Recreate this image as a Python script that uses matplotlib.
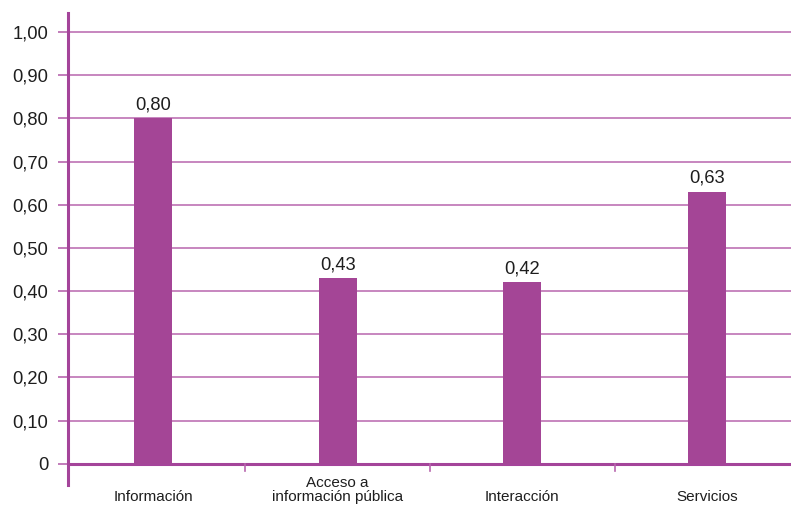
import matplotlib.pyplot as plt
import numpy as np
from matplotlib.transforms import blended_transform_factory

categories = ["Información", "Acceso a\ninformación pública", "Interacción", "Servicios"]
values = [0.80, 0.43, 0.42, 0.63]
y_ticks = [0.0, 0.1, 0.2, 0.3, 0.4, 0.5, 0.6, 0.7, 0.8, 0.9, 1.0]

BAR = "#a44596"
GRID = "#b866ae"
AXIS = "#a4449a"
TEXT = "#1e1e1e"

plt.rcParams["font.family"] = ["Liberation Sans", "DejaVu Sans"]


def fmt(v):
    return "0" if v == 0 else f"{v:.2f}".replace(".", ",")


fig = plt.figure(figsize=(7.91, 5.22), dpi=100)
ax = fig.add_axes([68 / 791, 1 - 485 / 522, 1 - 68 / 791, (485 - 13) / 522])

x = np.arange(len(categories))
ax.bar(x, values, width=0.205, color=BAR, zorder=3)

ax.set_xlim(-0.46, 3.455)
ax.set_ylim(-0.049, 1.044)

# gridlines + outward tick marks
ax.set_yticks(y_ticks)
ax.set_yticklabels([fmt(v) for v in y_ticks], fontsize=13.2, color=TEXT)
ax.tick_params(axis="y", direction="out", length=7.2, width=1.2, color=GRID, pad=7)
for v in y_ticks:
    ax.axhline(v, color=AXIS if v == 0 else GRID, lw=2.2 if v == 0 else 1.1, zorder=2)

# category boundary ticks below the zero line
for b in [0.5, 1.5, 2.5]:
    ax.plot([b, b], [0, -0.017], color=GRID, lw=1.2, clip_on=False, zorder=2)

ax.set_xticks([])
for s in ["top", "right", "bottom"]:
    ax.spines[s].set_visible(False)
ax.spines["left"].set_color(AXIS)
ax.spines["left"].set_linewidth(2.2)

for xi, v in zip(x, values):
    ax.annotate(fmt(v), (xi, v), xytext=(0, 5), textcoords="offset pixels",
                ha="center", va="bottom", fontsize=13.2, color=TEXT)

trans = blended_transform_factory(ax.transData, fig.transFigure)
for xi, name in zip(x, categories):
    ax.text(xi, 1 - 501 / 522, name, transform=trans, ha="center", va="baseline",
            fontsize=11, color=TEXT, linespacing=1.0)

fig.savefig("out.png", dpi=100)
